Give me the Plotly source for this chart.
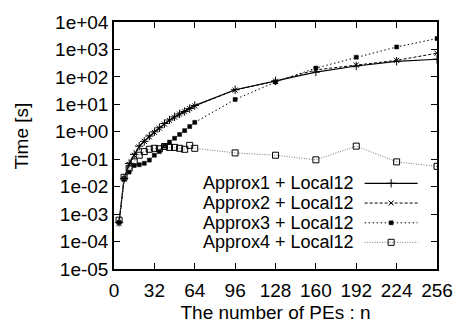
import plotly.graph_objects as go

# Number of processing elements
n_pes = [4, 8, 12, 16, 20, 24, 28, 32, 36, 40, 44, 48, 52, 56, 60, 64,
         96, 128, 160, 192, 224, 256]

# Execution time [s] for each method
approx1 = [5e-4, 0.02, 0.07, 0.15, 0.3, 0.45, 0.7, 1.0, 1.4, 2.0, 2.7, 3.5,
           4.5, 5.5, 7.0, 9.0, 34, 72, 150, 250, 370, 440]
approx2 = [4.5e-4, 0.018, 0.065, 0.14, 0.28, 0.45, 0.65, 0.95, 1.35, 1.9, 2.6,
           3.4, 4.4, 5.5, 7.0, 8.8, 33, 70, 180, 270, 400, 730]
approx3 = [5e-4, 0.02, 0.034, 0.059, 0.063, 0.071, 0.093, 0.14, 0.19, 0.3,
           0.42, 0.58, 0.8, 1.1, 1.55, 2.2, 15, 65, 210, 520, 1230, 2500]
approx4 = [6e-4, 0.022, 0.047, 0.08, 0.14, 0.19, 0.23, 0.25, 0.24, 0.29, 0.27,
           0.27, 0.25, 0.23, 0.32, 0.25, 0.17, 0.14, 0.095, 0.3, 0.08, 0.055]

series_names = ["Approx1 + Local12", "Approx2 + Local12",
                "Approx3 + Local12", "Approx4 + Local12"]

x_ticks = [0, 32, 64, 96, 128, 160, 192, 224, 256]
y_tick_vals = [1e-5, 1e-4, 1e-3, 1e-2, 1e-1, 1e0, 1e1, 1e2, 1e3, 1e4]
y_tick_text = ["1e-05", "1e-04", "1e-03", "1e-02", "1e-01",
               "1e+00", "1e+01", "1e+02", "1e+03", "1e+04"]
# Minor ticks: 2..9 within every decade
y_minor_vals = [m * d for d in y_tick_vals[:-1] for m in range(2, 10)]

FONT = "Liberation Sans, Arial, sans-serif"

styles = [
    dict(line=dict(color="black", width=1.2, dash="solid"),
         marker=dict(symbol="cross-thin", size=6, color="black",
                     line=dict(color="black", width=1))),
    dict(line=dict(color="black", width=1, dash="3px,2px"),
         marker=dict(symbol="x-thin", size=5, color="black",
                     line=dict(color="black", width=1))),
    dict(line=dict(color="black", width=1, dash="1.5px,2.5px"),
         marker=dict(symbol="square", size=4, color="black",
                     line=dict(color="black", width=0.5))),
    dict(line=dict(color="#777777", width=1, dash="1px,1.5px"),
         marker=dict(symbol="square-open", size=6, color="black",
                     line=dict(color="black", width=1))),
]

fig = go.Figure()

for name, ys, st in zip(series_names, [approx1, approx2, approx3, approx4], styles):
    fig.add_trace(go.Scatter(x=n_pes, y=ys, mode="lines+markers", name=name,
                             line=st["line"], marker=st["marker"],
                             showlegend=False))

# Key: text on the left, line sample with a marker on the right
key_rows = [0.347, 0.267, 0.187, 0.108]
for name, yk, st in zip(series_names, key_rows, styles):
    fig.add_trace(go.Scatter(x=[0.776, 0.94], y=[yk, yk], mode="lines",
                             line=st["line"], xaxis="x2", yaxis="y2",
                             showlegend=False, hoverinfo="skip"))
    fig.add_trace(go.Scatter(x=[0.858], y=[yk], mode="markers",
                             marker=st["marker"], xaxis="x2", yaxis="y2",
                             showlegend=False, hoverinfo="skip"))
    fig.add_annotation(x=0.745, y=yk, xref="x2", yref="y2", text=name,
                       showarrow=False, xanchor="right", yanchor="middle",
                       borderpad=0,
                       font=dict(family=FONT, size=18, color="black"))

# Vertical axis title
fig.add_annotation(x=-0.285, y=0.54, xref="paper", yref="paper",
                   text="Time [s]", textangle=-90, showarrow=False,
                   xanchor="center", yanchor="middle",
                   font=dict(family=FONT, size=19, color="black"))

minor_axis = dict(
    type="log", range=[-5, 4], overlaying="y", anchor="x",
    tickmode="array", tickvals=y_minor_vals, showticklabels=False,
    ticks="inside", ticklen=3, tickwidth=1, tickcolor="black",
    showline=False, showgrid=False, zeroline=False, fixedrange=True,
)

fig.update_layout(
    width=465, height=332,
    margin=dict(l=114, r=18, t=18, b=63),
    paper_bgcolor="white", plot_bgcolor="white",
    font=dict(family=FONT, size=19, color="black"),
    xaxis=dict(
        range=[0, 256], tickvals=x_ticks, ticktext=[str(v) for v in x_ticks],
        ticks="inside", ticklen=6, tickwidth=1, tickcolor="black",
        ticklabelstandoff=3,
        showline=True, linecolor="black", linewidth=1.5, mirror="ticks",
        showgrid=False, zeroline=False,
        title=dict(text="The number of PEs : n", standoff=6,
                   font=dict(size=19)),
        tickfont=dict(size=19),
    ),
    yaxis=dict(
        type="log", range=[-5, 4],
        tickvals=y_tick_vals, ticktext=y_tick_text,
        ticks="inside", ticklen=6, tickwidth=1, tickcolor="black",
        showline=True, linecolor="black", linewidth=1.5, mirror="ticks",
        showgrid=False, zeroline=False,
        tickfont=dict(size=19),
    ),
    yaxis3=dict(minor_axis, side="left"),
    yaxis4=dict(minor_axis, side="right"),
    xaxis2=dict(range=[0, 1], overlaying="x", visible=False, fixedrange=True),
    yaxis2=dict(range=[0, 1], overlaying="y", visible=False, fixedrange=True),
)

fig.write_html("out.html")
